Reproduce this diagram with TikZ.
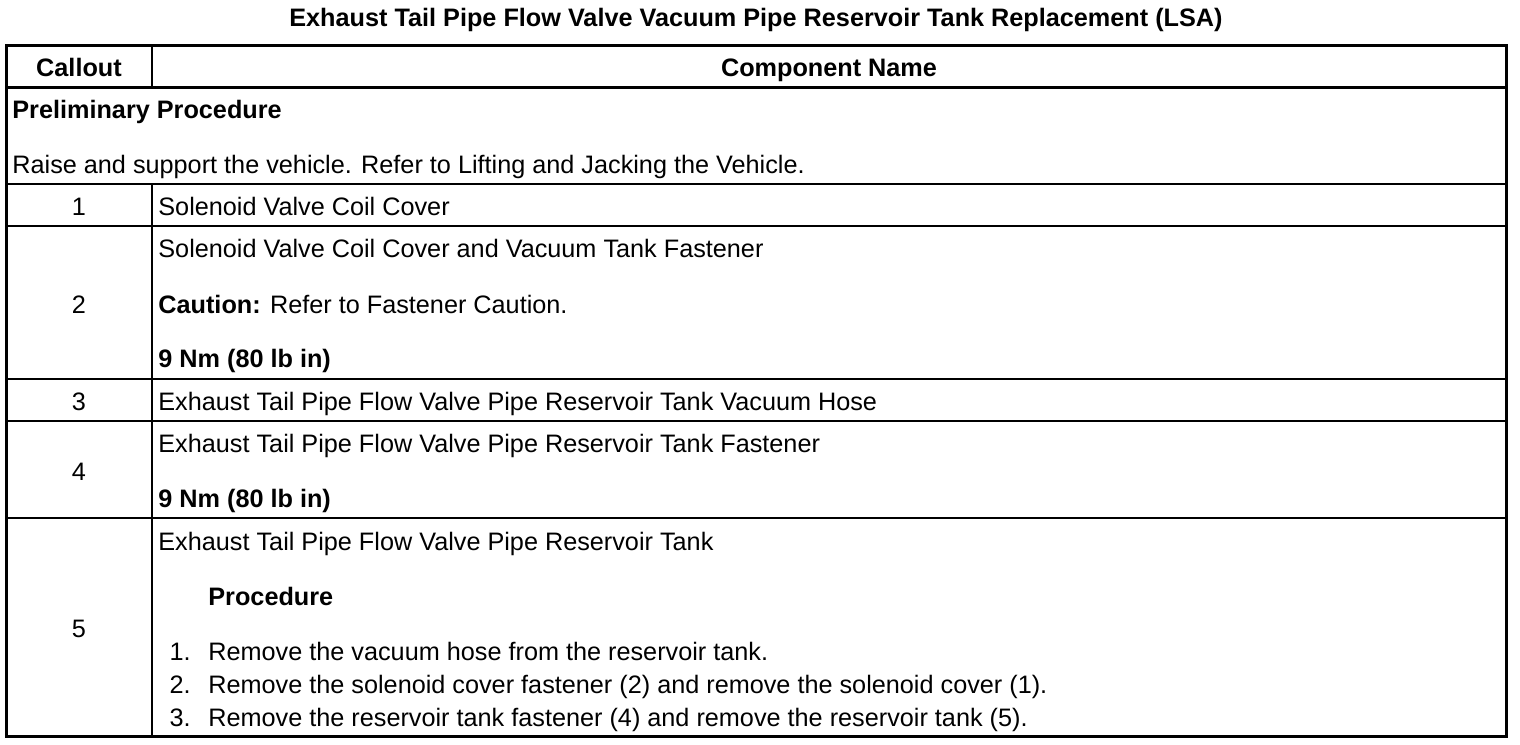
\documentclass[tikz,border=0pt]{standalone}
\usepackage{fontspec}
\setmainfont{Liberation Sans}
\begin{document}
\begin{tikzpicture}[x=0.5pt,y=-0.5pt,
  txt/.style={anchor=base west,inner sep=0pt,font=\fontsize{12.62pt}{16pt}\selectfont},
  ctr/.style={anchor=base,inner sep=0pt,font=\fontsize{12.62pt}{16pt}\selectfont},
  bld/.style={font=\fontsize{12.62pt}{16pt}\selectfont\bfseries},
  thick frame/.style={line width=1.5pt},
  thin rule/.style={line width=0.9pt}]
\useasboundingbox (0,0) rectangle (1520,744);
% title
\node[ctr,bld] (title) at (756,26) {Exhaust Tail Pipe Flow Valve Vacuum Pipe Reservoir Tank Replacement (LSA)};
% grid
\draw[thin rule] (152,45) -- (152,87);
\draw[thin rule] (152,184) -- (152,736);
\draw[thin rule] (6,184) -- (1506,184);
\draw[thin rule] (6,226) -- (1506,226);
\draw[thin rule] (6,379) -- (1506,379);
\draw[thin rule] (6,421) -- (1506,421);
\draw[thin rule] (6,518) -- (1506,518);
\draw[thick frame] (6,87.5) -- (1506,87.5);
\draw[thick frame] (6,45) rectangle (1506,736);
% header
\node[ctr,bld] (hc) at (79,76) {Callout};
\node[ctr,bld] (hn) at (829,76) {Component Name};
% preliminary
\node[txt,bld] (pp) at (12,118) {Preliminary Procedure};
\node[txt] (pr) at (12,173) {Raise and support the vehicle. Refer to Lifting and Jacking the Vehicle.};
% row 1
\node[ctr] (c1) at (79,215) {1};
\node[txt] (n1) at (158,215) {Solenoid Valve Coil Cover};
% row 2
\node[ctr] (c2) at (79,313) {2};
\node[txt] (n2a) at (158,257) {Solenoid Valve Coil Cover and Vacuum Tank Fastener};
\node[txt] (n2b) at (158,313) {\textbf{Caution:} Refer to Fastener Caution.};
\node[txt,bld] (n2c) at (158,367) {9 Nm (80 lb in)};
% row 3
\node[ctr] (c3) at (79,410) {3};
\node[txt] (n3) at (158,410) {Exhaust Tail Pipe Flow Valve Pipe Reservoir Tank Vacuum Hose};
% row 4
\node[ctr] (c4) at (79,480) {4};
\node[txt] (n4a) at (158,452) {Exhaust Tail Pipe Flow Valve Pipe Reservoir Tank Fastener};
\node[txt,bld] (n4b) at (158,507) {9 Nm (80 lb in)};
% row 5
\node[ctr] (c5) at (79,637) {5};
\node[txt] (n5a) at (158,550) {Exhaust Tail Pipe Flow Valve Pipe Reservoir Tank};
\node[txt,bld] (n5b) at (208,605) {Procedure};
\node[ctr,anchor=base east] (l1) at (191,660) {1.};
\node[txt] (s1) at (208,660) {Remove the vacuum hose from the reservoir tank.};
\node[ctr,anchor=base east] (l2) at (191,693) {2.};
\node[txt] (s2) at (208,693) {Remove the solenoid cover fastener (2) and remove the solenoid cover (1).};
\node[ctr,anchor=base east] (l3) at (191,726) {3.};
\node[txt] (s3) at (208,726) {Remove the reservoir tank fastener (4) and remove the reservoir tank (5).};
\end{tikzpicture}
\end{document}
